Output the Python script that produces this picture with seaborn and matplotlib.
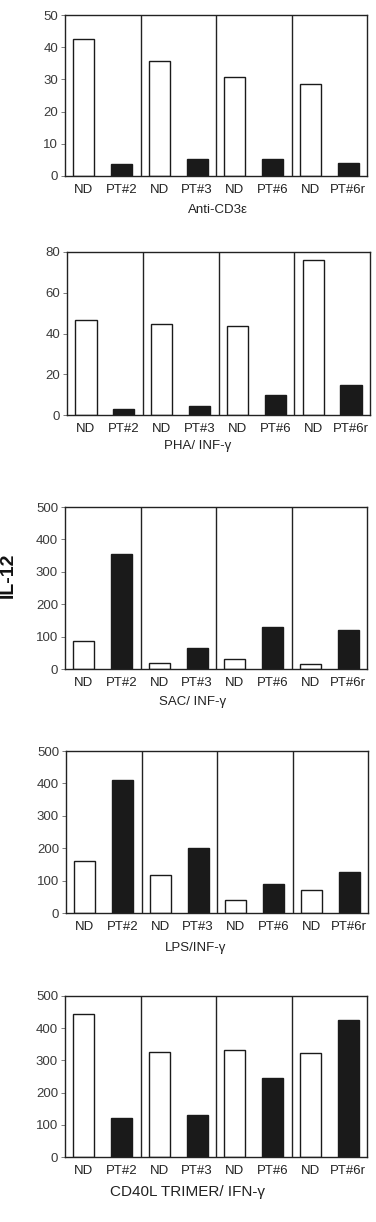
import matplotlib
matplotlib.use("Agg")
import matplotlib.pyplot as plt
import seaborn as sns
import pandas as pd

sns.set_style("ticks")
plt.rcParams['font.family'] = ['Liberation Sans', 'DejaVu Sans']

categories = ["ND", "PT#2", "ND", "PT#3", "ND", "PT#6", "ND", "PT#6r"]
kinds = ["ND", "PT", "ND", "PT", "ND", "PT", "ND", "PT"]

anti_cd3 = [42.6, 3.6, 35.6, 5.4, 30.9, 5.2, 28.7, 3.9]
pha_ifn = [46.6, 2.8, 44.7, 4.4, 43.9, 10.0, 76.1, 14.6]
sac_ifn = [87, 356, 17, 66, 30, 131, 14, 119]
lps_ifn = [162, 409, 116, 200, 41, 89, 70, 126]
cd40l_ifn = [443, 121, 327, 131, 331, 246, 324, 426]

panel_titles = ["Anti-CD3\u03b5", "PHA/ INF-\u03b3", "SAC/ INF-\u03b3", "LPS/INF-\u03b3", "CD40L TRIMER/ IFN-\u03b3"]
panel_values = [anti_cd3, pha_ifn, sac_ifn, lps_ifn, cd40l_ifn]
panel_ymax = [50, 80, 500, 500, 500]
panel_yticks = [[0, 10, 20, 30, 40, 50], [0, 20, 40, 60, 80],
                [0, 100, 200, 300, 400, 500], [0, 100, 200, 300, 400, 500],
                [0, 100, 200, 300, 400, 500]]

W, H = 376, 1222
fig = plt.figure(figsize=(W / 100, H / 100), dpi=100)

# pixel boxes: left, right, top, bottom
boxes = [(65, 367, 15, 176), (67, 370, 252, 415), (65, 367, 507, 669),
         (66, 368, 751, 913), (65, 367, 996, 1157)]
title_pos = [(0.507, -0.211), (0.432, -0.19), (0.424, -0.206), (0.43, -0.216), (0.407, -0.217)]

for i, (vals, title, ymax, yt, box, tp) in enumerate(zip(panel_values, panel_titles, panel_ymax,
                                                         panel_yticks, boxes, title_pos)):
    l, r, t, b = box
    ax = fig.add_axes([l / W, 1 - b / H, (r - l) / W, (b - t) / H])
    keys = [f"{c}_{j}" for j, c in enumerate(categories)]
    df = pd.DataFrame({"key": keys, "value": vals, "kind": kinds})
    sns.barplot(data=df, x="key", y="value", hue="kind", order=keys,
                palette={"ND": "white", "PT": "#1a1a1a"}, edgecolor="#1a1a1a",
                linewidth=1.0, width=0.56, dodge=False, legend=False, ax=ax)
    ax.set_xlim(-0.5, 7.5)
    ax.set_ylim(0, ymax)
    ax.set_yticks(yt)
    ax.set_yticklabels([str(v) for v in yt], fontsize=9.5, color="#3a3a3a")
    ax.set_xticks(range(8))
    ax.set_xticklabels(categories, fontsize=9.5, color="#222222")
    ax.tick_params(axis="x", length=0, pad=6)
    ax.tick_params(axis="y", length=3, width=0.6, color="#666666", pad=2)
    for sp in ax.spines.values():
        sp.set_visible(True)
        sp.set_color("#222222")
        sp.set_linewidth(1.0)
    for xs in (1.5, 3.5, 5.5):
        ax.axvline(xs, color="#222222", lw=1.0)
    ax.set_ylabel("")
    ax.set_xlabel("")
    fs = 11 if i == 4 else 9.5
    ax.text(tp[0], tp[1], title, transform=ax.transAxes, ha="center", va="center",
            fontsize=fs, color="#222222")

fig.text(8 / W, 1 - 575 / H, "IL-12", rotation=90, ha="center", va="center",
         fontsize=14, fontweight="bold", color="#111111")

fig.savefig("out.png", dpi=100)
